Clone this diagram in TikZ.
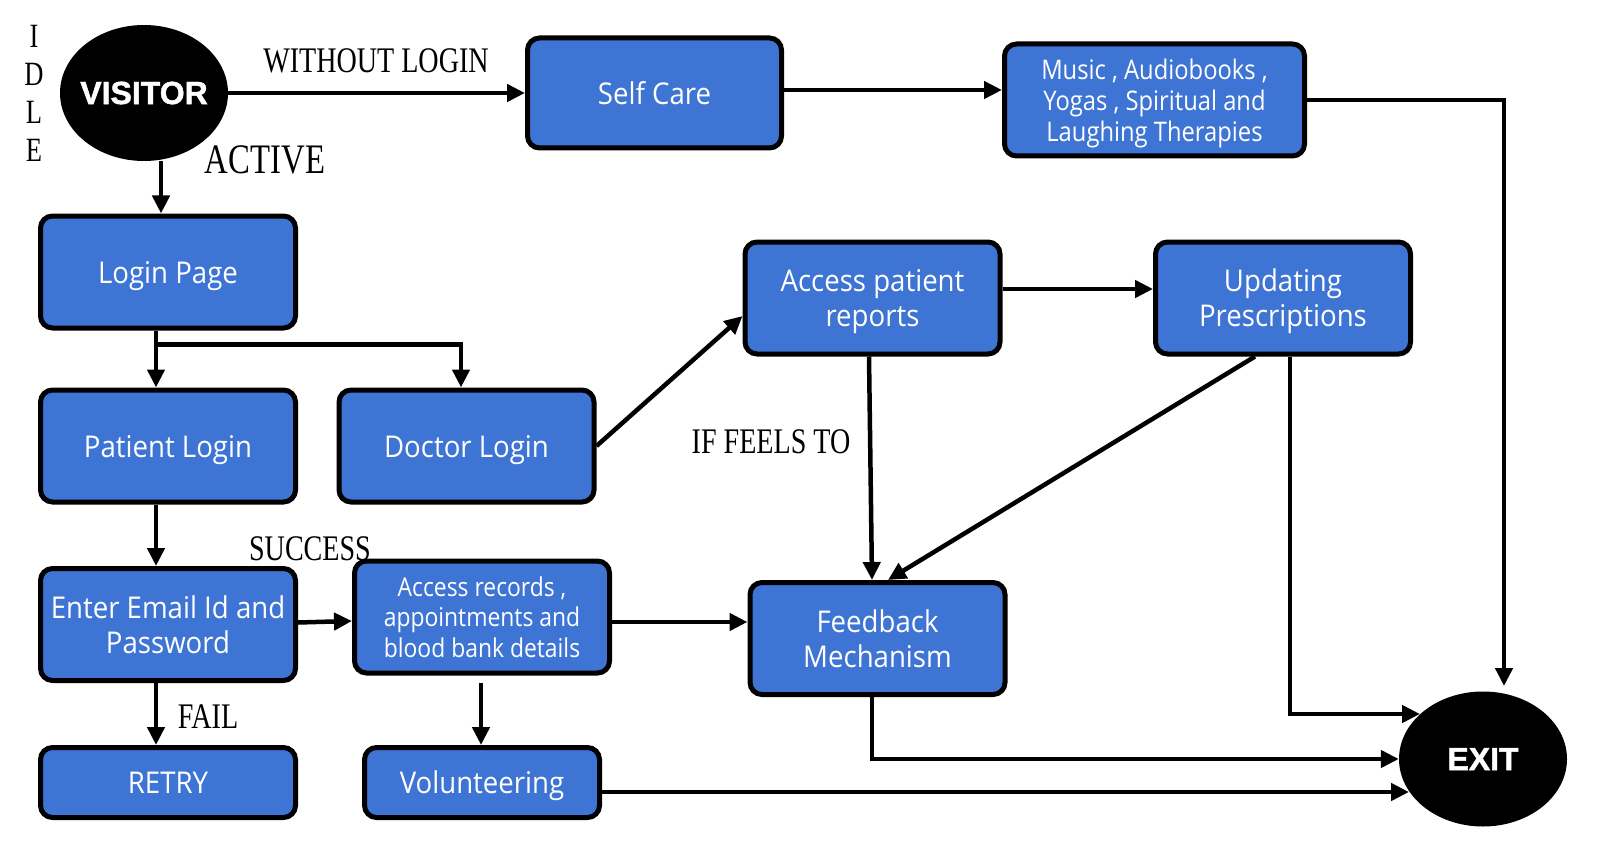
\documentclass[tikz,border=0pt]{standalone}
\usepackage{fontspec}
\setmainfont{Liberation Serif}
\newfontfamily\boxfont[FakeStretch=0.92]{Open Sans}
\newfontfamily\boxfontn[FakeStretch=0.88]{Open Sans}
\newfontfamily\labfont[FakeStretch=0.78]{Liberation Serif}
\newfontfamily\heavyfont[FakeBold=1.5]{Liberation Sans Bold}
\usetikzlibrary{arrows.meta,shapes.geometric}
\definecolor{boxblue}{RGB}{62,116,211}
\tikzset{
  box/.style={draw=black, line width=5pt, fill=boxblue, rounded corners=12pt, text=white,
    font=\boxfont\fontsize{30}{35}\selectfont, align=center, text depth=0pt,
    minimum width=255pt, minimum height=112pt, inner sep=0pt},
  blob/.style={ellipse, fill=black, text=white, font=\heavyfont\fontsize{32}{36}\selectfont,
    inner ysep=0pt, inner xsep=-6pt},
  conn/.style={line width=4.5pt, -{Triangle[length=18pt,width=17pt]}},
  lab/.style={font=\labfont\fontsize{36}{38}\selectfont, inner sep=0pt},
}
\begin{document}
\begin{tikzpicture}[x=1pt,y=-1pt]
\useasboundingbox (0,0) rectangle (1600,861);
% ellipses
\node[blob, minimum width=168pt, minimum height=136pt] (visitor) at (144,93) {VISITOR};
\node[blob, minimum width=168pt, minimum height=135pt] (exit) at (1483,759) {EXIT};
% boxes
\node[box, minimum width=254pt, minimum height=110pt] (selfcare) at (654.5,93) {Self Care};
\node[box, minimum width=300pt, minimum height=112pt, font=\boxfontn\fontsize{27}{31}\selectfont] (music) at (1154.5,100) {Music , Audiobooks ,\\Yogas , Spiritual and\\Laughing Therapies};
\node[box] (login) at (168,272) {Login Page};
\node[box] (patient) at (168,446) {Patient Login};
\node[box] (doctor) at (466.5,446) {Doctor Login};
\node[box] (email) at (168,624.5) {Enter Email Id and\\Password};
\node[box, font=\boxfontn\fontsize{26}{30.5}\selectfont] (accrec) at (482,617) {Access records ,\\appointments and\\blood bank details};
\node[box, minimum height=70pt] (retry) at (168,782.5) {RETRY};
\node[box, minimum width=235pt, minimum height=70pt] (volunteer) at (482,782.5) {Volunteering};
\node[box] (accrep) at (872.5,298) {Access patient\\reports};
\node[box] (updating) at (1283,298) {Updating\\Prescriptions};
\node[box] (feedback) at (877.5,638.5) {Feedback\\Mechanism};
% free ends
\coordinate (e1) at (1504,686);
\coordinate (e2) at (1420,714);
\coordinate (e3) at (1409,792);
% labels
\node[lab] (lwithout) at (376,61) {WITHOUT LOGIN};
\node[lab, font=\labfont\fontsize{42}{44}\selectfont] (lactive) at (265,160) {ACTIVE};
\node[lab, font=\labfont\fontsize{34}{38}\selectfont, align=center] (lidle) at (34,93) {I\\D\\L\\E};
\node[lab] (lsuccess) at (310,549) {SUCCESS};
\node[lab] (lfeels) at (771,442) {IF FEELS TO};
\node[lab] (lfail) at (208,717) {FAIL};
% connectors
\draw[conn] (visitor.east) -- (visitor.east -| selfcare.west);
\draw[conn] ([yshift=3pt]selfcare.east) -- ([yshift=3pt]selfcare.east -| music.west);
\draw[conn] (music.east) -| (e1);
\draw[conn] ([xshift=-7pt]login.north |- visitor.south) -- ([xshift=-7pt]login.north);
\draw[conn] ([xshift=-12pt]login.south) -- ([xshift=-12pt]patient.north);
\draw[conn] ([xshift=-12pt,yshift=-14pt]login.south) -| ([xshift=-5.5pt]doctor.north);
\draw[conn] ([xshift=-12pt]patient.south) -- ([xshift=-12pt]email.north);
\draw[conn] ([xshift=-12pt]email.south) -- ([xshift=-12pt]retry.north);
\draw[conn] ([yshift=2pt]email.east) -- ([yshift=-4pt]accrec.west);
\draw[conn] ([xshift=-1pt,yshift=-7pt]accrec.south) -- ([xshift=-1pt]volunteer.north);
\draw[conn] ([yshift=-5pt]accrec.east) -- ([yshift=-5pt]accrec.east -| feedback.west);
\draw[conn] (doctor.east) -- ([yshift=-18pt]accrep.west);
\draw[conn] ([yshift=9pt]accrep.east) -- ([yshift=9pt]accrep.east -| updating.west);
\draw[conn] ([xshift=-3.5pt]accrep.south) -- ([xshift=-5.5pt]feedback.north);
\draw[conn] ([xshift=-28pt]updating.south) -- ([xshift=10.5pt]feedback.north);
\draw[conn] ([xshift=7pt]updating.south) |- (e2);
\draw[conn] ([xshift=-5.5pt]feedback.south) |- (exit.west);
\draw[conn] ([yshift=-9.5pt]volunteer.east) -- (e3);
\end{tikzpicture}
\end{document}
